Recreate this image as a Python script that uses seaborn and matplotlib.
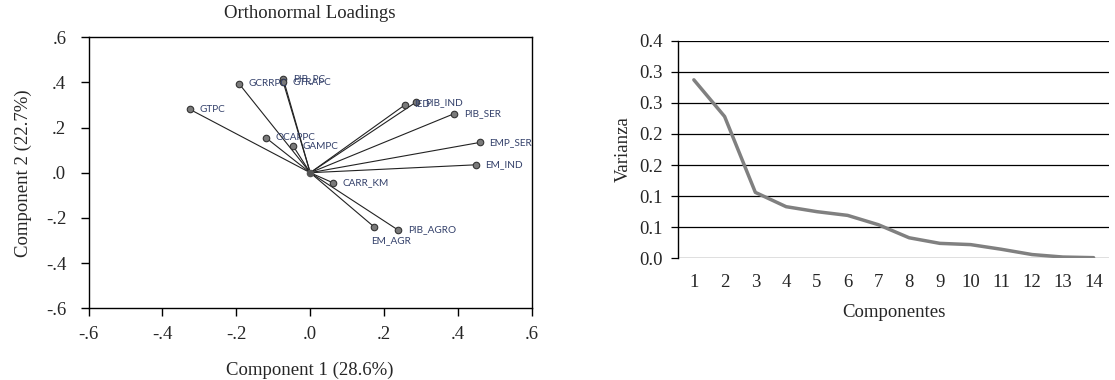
import numpy as np
import pandas as pd
import matplotlib
matplotlib.use("Agg")
import matplotlib.pyplot as plt
import seaborn as sns

# ---- Data ----
var_names = ["GTPC", "GCRRPC", "PIB_PC", "GTRAPC", "OCAPPC", "GAMPC", "CARR_KM",
             "IED", "PIB_IND", "PIB_SER", "EMP_SER", "EM_IND", "EM_AGR", "PIB_AGRO"]
comp1 = [-0.325, -0.192, -0.073, -0.073, -0.120, -0.046, 0.062,
         0.256, 0.286, 0.389, 0.459, 0.448, 0.173, 0.238]
comp2 = [0.280, 0.393, 0.416, 0.401, 0.155, 0.118, -0.045,
         0.300, 0.312, 0.261, 0.134, 0.035, -0.240, -0.254]

components = list(range(1, 15))
variance = [0.287, 0.228, 0.106, 0.083, 0.075, 0.069, 0.054,
            0.033, 0.024, 0.022, 0.0145, 0.006, 0.002, 0.001]
var_ticks = [0.0, 0.05, 0.10, 0.15, 0.20, 0.25, 0.30, 0.35]
var_tick_labels = ["0.0", "0.1", "0.1", "0.2", "0.2", "0.3", "0.3", "0.4"]

load_ticks = [-0.6, -0.4, -0.2, 0.0, 0.2, 0.4, 0.6]
load_tick_labels = ["-.6", "-.4", "-.2", ".0", ".2", ".4", ".6"]

sns.set_theme(style="white")
plt.rcParams['font.family'] = ['Liberation Serif', 'DejaVu Serif']

FS = 13.5
fig = plt.figure(figsize=(11.15, 3.8), dpi=100)

# ---- Left: loadings ----
ax1 = fig.add_axes([0.0794, 0.189, 0.3976, 0.713])
df = pd.DataFrame({"c1": comp1, "c2": comp2, "name": var_names})
for x, y in zip(comp1, comp2):
    ax1.plot([0, x], [0, y], color="#222222", lw=0.8, zorder=1)
sns.scatterplot(data=df, x="c1", y="c2", ax=ax1, s=22, color="#7a7a7a",
                edgecolor="#333333", linewidth=0.8, zorder=3, legend=False)
ax1.scatter([0], [0], s=20, color="#555555", zorder=3)
label_offsets = {"EM_AGR": (-2, -10)}
for x, y, n in zip(comp1, comp2, var_names):
    dx, dy = label_offsets.get(n, (7, 0))
    ax1.annotate(n, (x, y), xytext=(dx, dy), textcoords="offset points",
                 fontsize=7.2, color="#33406a", va="center", ha="left",
                 family=["Lato", "DejaVu Sans"], zorder=4)
ax1.set_xlim(-0.6, 0.6)
ax1.set_ylim(-0.6, 0.6)
ax1.set_xticks(load_ticks)
ax1.set_xticklabels(load_tick_labels)
ax1.set_yticks(load_ticks)
ax1.set_yticklabels(load_tick_labels)
for sp in ax1.spines.values():
    sp.set_visible(True)
    sp.set_color("black")
    sp.set_linewidth(1.0)
ax1.tick_params(axis="both", which="both", direction="out", length=6, width=1,
                color="black", labelsize=FS, bottom=True, left=True)
ax1.tick_params(axis="y", pad=10)
ax1.tick_params(axis="x", pad=7)
ax1.set_xlabel("Component 1 (28.6%)", fontsize=FS, labelpad=13)
ax1.set_ylabel("Component 2 (22.7%)", fontsize=FS, labelpad=10)
ax1.set_title("Orthonormal Loadings", fontsize=FS, pad=14)

# ---- Right: scree plot ----
ax2 = fig.add_axes([0.6085, 0.3203, 0.3861, 0.5727])
sdf = pd.DataFrame({"comp": components, "var": variance})
sns.lineplot(data=sdf, x="comp", y="var", ax=ax2, color="#808080", lw=2.5)
ax2.set_xlim(0.5, 14.5)
ax2.set_ylim(0, 0.35)
ax2.set_yticks(var_ticks)
ax2.set_yticklabels(var_tick_labels)
ax2.set_xticks(components)
ax2.yaxis.grid(True, color="black", lw=0.9)
ax2.set_axisbelow(True)
for s in ["top", "right", "bottom"]:
    ax2.spines[s].set_visible(False)
ax2.spines["left"].set_color("black")
ax2.spines["left"].set_linewidth(1.0)
ax2.tick_params(axis="y", direction="out", length=5, width=0.9, color="black",
                labelsize=FS, pad=6, left=True)
ax2.tick_params(axis="x", length=0, labelsize=FS, pad=11)
ax2.set_xlabel("Componentes", fontsize=FS, labelpad=10)
ax2.set_ylabel("Varianza", fontsize=FS, labelpad=6)

fig.savefig("out.png", dpi=100)
